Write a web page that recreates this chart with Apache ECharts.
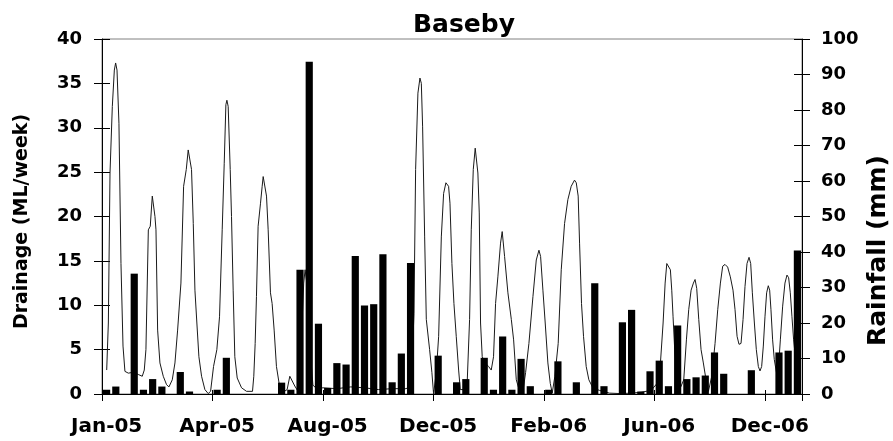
<!DOCTYPE html>
<html>
<head>
<meta charset="utf-8">
<script src="https://cdn.jsdelivr.net/npm/echarts@6/dist/echarts.min.js"></script>
<style>
  html, body { margin: 0; padding: 0; background: #fff; }
  #chart { width: 893px; height: 441px; }
</style>
</head>
<body>
<div id="chart"></div>
<script>
// Weekly rainfall (mm), one value per sampling week
const rainfall = [
  1.2, 2.1, 0, 33.9, 1.2, 4.2, 2.1, 0, 6.2, 0.7,
  0, 0, 1.2, 10.2, 0, 0, 0, 0, 0, 3.2,
  1.2, 35.0, 93.6, 19.8, 1.7, 8.7, 8.3, 38.9, 24.9, 25.3,
  39.4, 3.3, 11.4, 36.9, 0, 0, 10.8, 0, 3.3, 4.2,
  0, 10.2, 1.2, 16.2, 1.2, 9.9, 2.2, 0, 1.2, 9.2,
  0, 3.3, 0, 31.2, 2.2, 0, 20.2, 23.7, 0.7, 6.4,
  9.4, 2.2, 19.3, 4.2, 4.7, 5.2, 11.7, 5.7, 0, 0,
  6.7, 0, 0, 11.7, 12.2, 40.4
];

// Drainage (ML/week) as [week, value] samples along the record
const drainage = [
  [0.51, 2.7], [0.69, 8.0], [0.87, 24.9], [1.12, 32.4], [1.34, 36.5], [1.48, 37.3], [1.63, 36.5],
  [1.84, 30.5], [2.06, 14.7], [2.28, 5.4], [2.49, 2.55], [2.86, 2.35], [3.4, 2.45], [3.94, 2.2],
  [4.37, 2.0], [4.59, 2.7], [4.77, 5.0], [5.03, 18.5], [5.24, 18.9], [5.46, 22.3], [5.6, 22.5],
  [5.75, 20.0], [5.86, 18.5], [6.04, 7.2], [6.29, 3.5], [6.65, 2.0], [7.01, 1.05], [7.27, 0.8],
  [7.63, 1.6], [7.92, 3.5], [8.21, 7.2], [8.57, 12.5], [8.86, 23.4], [9.15, 25.3], [9.36, 27.5],
  [9.51, 27.7], [9.72, 25.3], [9.91, 19.2], [10.09, 11.7], [10.3, 8.0], [10.52, 4.2], [10.81, 2.0],
  [11.17, 0.5], [11.53, 0.05], [11.79, 0.3], [12.11, 3.1], [12.47, 5.0], [12.76, 8.7], [13.05, 18.5],
  [13.27, 26.0], [13.45, 32.6], [13.56, 33.1], [13.7, 32.4], [13.92, 25.3], [14.06, 20.0],
  [14.24, 11.7], [14.42, 4.2], [14.68, 1.8], [15.15, 0.7], [15.69, 0.3], [16.34, 0.3], [16.48, 2.0],
  [16.63, 5.7], [16.77, 11.0], [16.95, 18.9], [17.21, 21.5], [17.39, 23.4], [17.5, 24.5], [17.64, 24.3],
  [17.86, 22.3], [18.04, 18.5], [18.29, 11.4], [18.47, 10.2], [18.69, 7.2], [18.94, 3.1], [19.23, 1.2],
  [19.66, 0.2], [20.1, 0.5], [20.39, 2.0], [20.6, 1.8], [20.93, 0.9], [21.29, 0.3], [21.6, 5.0],
  [21.9, 12.5], [22.05, 14.0], [22.3, 12.0], [22.6, 5.0], [22.9, 1.0], [23.3, 0.6], [24.0, 0.7],
  [25.5, 0.6], [27.0, 0.8], [28.5, 0.7], [30.0, 0.5], [31.5, 0.6], [33.0, 0.6], [33.58, 0.9],
  [33.87, 9.1], [34.05, 25.3], [34.3, 33.9], [34.52, 35.6], [34.67, 35.0], [34.81, 30.1], [35.03, 17.7],
  [35.21, 8.4], [35.57, 5.0], [35.82, 2.4], [36.0, 0.0], [36.29, 2.4], [36.55, 6.5], [36.84, 17.7],
  [37.09, 22.6], [37.34, 23.8], [37.49, 23.9], [37.63, 23.4], [37.78, 21.5], [37.99, 14.7], [38.21, 10.2],
  [38.46, 6.5], [38.72, 2.7], [38.9, 0.5], [39.37, 0.5], [39.66, 1.6], [39.91, 8.4], [40.09, 18.5],
  [40.31, 25.3], [40.52, 27.7], [40.67, 27.5], [40.81, 24.9], [40.96, 20.4], [41.1, 8.0], [41.28, 4.2],
  [41.61, 3.5], [41.97, 3.1], [42.26, 2.7], [42.51, 4.2], [42.73, 10.2], [42.98, 13.2], [43.27, 17.0],
  [43.45, 18.3], [43.53, 18.5], [43.71, 15.5], [44.07, 11.4], [44.44, 8.4], [44.69, 6.1], [44.98, 1.6],
  [45.34, 0.3], [45.7, 0.3], [45.99, 2.4], [46.35, 5.7], [46.79, 11.0], [47.15, 15.1], [47.44, 16.2],
  [47.62, 15.5], [47.87, 11.7], [48.12, 8.0], [48.41, 3.5], [48.67, 1.2], [48.88, 0.1], [49.17, 2.0],
  [49.53, 5.7], [49.86, 14.0], [50.22, 19.2], [50.58, 21.9], [50.94, 23.4], [51.3, 24.1], [51.49, 23.8],
  [51.7, 22.3], [51.85, 17.0], [52.06, 10.2], [52.28, 6.5], [52.57, 3.1], [52.86, 1.6], [53.29, 0.7],
  [54.02, 0.4], [55.1, 0.1], [56.2, 0.05], [57.5, 0.1], [58.53, 0.2], [59.62, 0.4], [60.27, 1.2],
  [60.63, 3.5], [60.92, 8.0], [61.14, 12.5], [61.32, 14.7], [61.53, 14.9], [61.71, 14.0], [61.86, 11.7],
  [62.0, 8.7], [62.18, 5.0], [62.44, 2.0], [62.8, 0.7], [63.16, 1.6], [63.45, 6.1], [63.7, 9.5],
  [63.96, 11.7], [64.21, 12.5], [64.39, 12.9], [64.57, 11.9], [64.79, 8.4], [65.04, 5.0], [65.29, 3.5],
  [65.58, 1.6], [65.84, 0.3], [66.2, 2.0], [66.56, 5.7], [66.85, 9.5], [67.14, 12.5], [67.39, 14.4],
  [67.64, 14.6], [67.93, 14.3], [68.22, 13.2], [68.51, 11.7], [68.73, 9.5], [68.95, 6.5], [69.16, 5.6],
  [69.38, 5.7], [69.6, 8.4], [69.81, 12.1], [70.03, 14.7], [70.25, 15.4], [70.43, 14.7], [70.61, 11.4],
  [70.83, 8.0], [71.04, 5.0], [71.26, 3.1], [71.44, 2.6], [71.62, 3.1], [71.8, 5.4], [71.98, 8.7],
  [72.16, 11.4], [72.34, 12.2], [72.49, 11.7], [72.63, 9.5], [72.81, 6.1], [72.99, 3.9], [73.36, 1.6],
  [73.65, 6.1], [73.9, 9.9], [74.15, 12.5], [74.37, 13.4], [74.55, 13.1], [74.73, 11.4], [74.91, 8.7],
  [75.09, 6.1], [75.4, 3.0]
];

// Date labels shown every 12 sampling weeks
const tickLabels = ['Jan-05', 'Apr-05', 'Aug-05', 'Dec-05', 'Feb-06', 'Jun-06', 'Dec-06'];
const labelStep = 12;

const weeks = rainfall.map((_, i) => String(i + 1));

const FONT = 'DejaVu Sans';
const boldText = (size) => ({ fontFamily: FONT, fontWeight: 'bold', fontSize: size, color: '#000' });

const chart = echarts.init(document.getElementById('chart'), null, { renderer: 'canvas' });

// value axis used only to place the drainage samples across the weekly categories
const weekScale = { type: 'value', min: 0, max: rainfall.length, show: false };

const option = {
  animation: false,
  backgroundColor: '#ffffff',
  title: {
    text: 'Baseby',
    left: 459,
    top: 8,
    textAlign: 'center',
    textStyle: boldText(25)
  },
  grid: {
    left: 102, right: 91, top: 39, bottom: 47,
    show: true, borderColor: '#808080', borderWidth: 1,
    containLabel: false, outerBoundsMode: 'none'
  },
  xAxis: [
    {
      type: 'category',
      data: weeks,
      position: 'bottom',
      boundaryGap: true,
      axisLine: { show: true, onZero: false, lineStyle: { color: '#000', width: 1 } },
      axisTick: { show: true, interval: labelStep - 1, length: 7, lineStyle: { color: '#000', width: 1 } },
      axisLabel: Object.assign({
        interval: labelStep - 1,
        margin: 23,
        formatter: (v, i) => (i % labelStep === 0 ? (tickLabels[i / labelStep] || '') : '')
      }, boldText(20)),
      splitLine: { show: false }
    },
    weekScale,
    {
      type: 'category',
      data: weeks,
      position: 'bottom',
      axisLine: { show: false },
      axisTick: { show: true, inside: true, interval: labelStep - 1, length: 4, lineStyle: { color: '#000', width: 1 } },
      axisLabel: { show: false },
      splitLine: { show: false }
    }
  ],
  yAxis: [
    {
      type: 'value', min: 0, max: 40, interval: 5, position: 'left',
      name: 'Drainage (ML/week)', nameLocation: 'middle', nameGap: 70, nameRotate: 90,
      nameMoveOverlap: false,
      nameTextStyle: Object.assign({ padding: [0, 10, 0, 0] }, boldText(19)),
      axisLine: { show: true, lineStyle: { color: '#000', width: 1 } },
      axisTick: { show: true, length: 8, lineStyle: { color: '#000', width: 1 } },
      axisLabel: Object.assign({ margin: 20 }, boldText(18)),
      splitLine: { show: false }
    },
    {
      type: 'value', min: 0, max: 100, interval: 10, position: 'right',
      name: 'Rainfall (mm)', nameLocation: 'middle', nameGap: 64, nameRotate: 90,
      nameMoveOverlap: false,
      nameTextStyle: Object.assign({ padding: [0, 68, 0, 0] }, boldText(25)),
      axisLine: { show: true, lineStyle: { color: '#000', width: 1 } },
      axisTick: { show: true, length: 8, lineStyle: { color: '#000', width: 1 } },
      axisLabel: Object.assign({ margin: 19 }, boldText(18)),
      splitLine: { show: false }
    },
    {
      type: 'value', min: 0, max: 40, interval: 5, position: 'left',
      axisLine: { show: false },
      axisTick: { show: true, inside: true, length: 8, lineStyle: { color: '#000', width: 1 } },
      axisLabel: { show: false },
      splitLine: { show: false }
    },
    {
      type: 'value', min: 0, max: 100, interval: 10, position: 'right',
      axisLine: { show: false },
      axisTick: { show: true, inside: true, length: 8, lineStyle: { color: '#000', width: 1 } },
      axisLabel: { show: false },
      splitLine: { show: false }
    }
  ],
  series: [
    {
      name: 'Drainage',
      type: 'line',
      xAxisIndex: 1,
      yAxisIndex: 0,
      data: drainage,
      showSymbol: false,
      smooth: false,
      lineStyle: { color: '#1a1a1a', width: 1 },
      z: 2
    },
    {
      name: 'Rainfall',
      type: 'bar',
      xAxisIndex: 0,
      yAxisIndex: 1,
      data: rainfall,
      barCategoryGap: '22%',
      itemStyle: { color: '#000' },
      z: 3
    }
  ]
};

chart.setOption(option);
</script>
</body>
</html>
